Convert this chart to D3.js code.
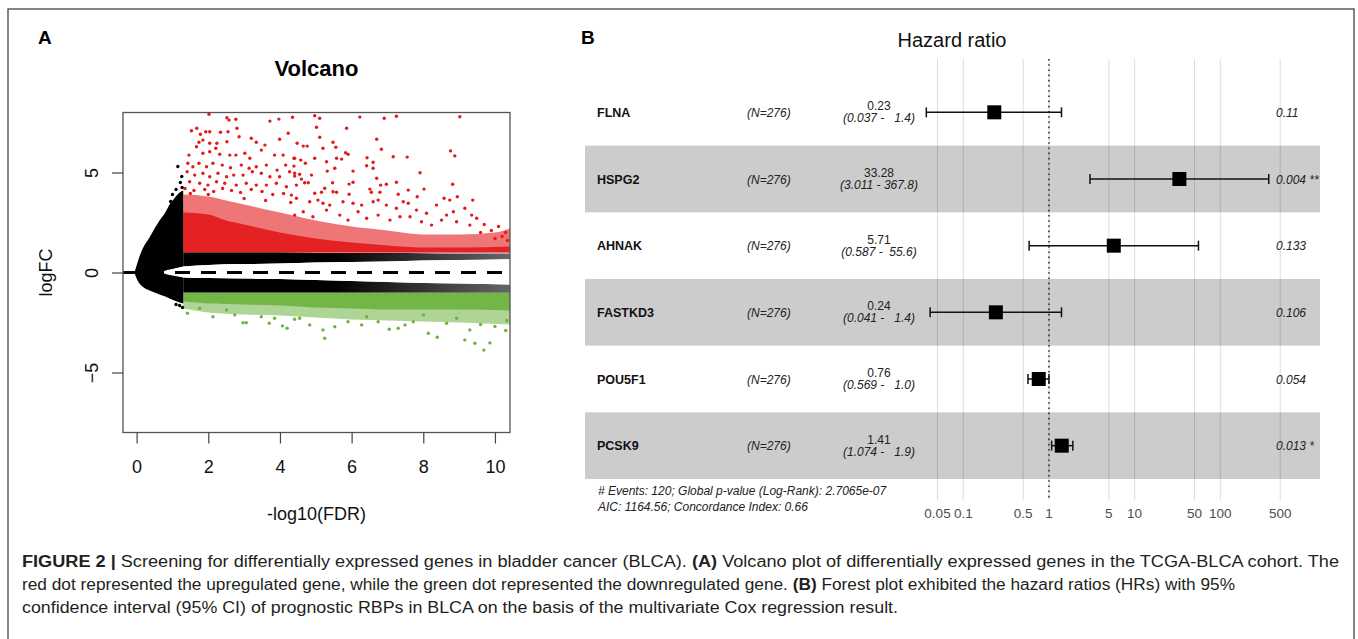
<!DOCTYPE html>
<html><head><meta charset="utf-8">
<script src="https://cdn.jsdelivr.net/npm/d3@7"></script>
<style>
body{margin:0;background:#fff}
svg{display:block}
text{font-family:"Liberation Sans",Arial,Helvetica,sans-serif}
</style>
</head><body>
<svg id="c" width="1358" height="639"></svg>
<script>
// ---------------- DATA ----------------
// Volcano plot (A)
const volcanoXTicks = [0, 2, 4, 6, 8, 10];
const volcanoYTicks = [-5, 0, 5];
// dense non-significant cloud near FDR threshold: [x, upper logFC, lower logFC]
const blackFunnel = [[-0.06,0,0],[0,0.35,-0.3],[0.08,0.8,-0.55],[0.2,1.3,-0.75],[0.36,1.75,-0.9],[0.5,2.2,-1.0],[0.64,2.6,-1.1],[0.8,3.0,-1.2],[0.92,3.4,-1.3],[1.05,3.7,-1.4],[1.2,4.0,-1.5],[1.3,4.1,-1.55]];
// black band above zero for x beyond threshold: [x, top, bottom]
const blackUpperBand = [[1.3,1.0,0.3],[2,1.0,0.38],[3,1.0,0.42],[4,1.0,0.45],[5,0.98,0.5],[6,0.97,0.52],[7,0.97,0.55],[8,0.96,0.6],[9,0.95,0.62],[10.42,0.95,0.66]];
const blackLowerBand = [[1.3,-0.25,-1.0],[2,-0.28,-1.0],[3,-0.3,-1.0],[4,-0.33,-1.0],[5,-0.38,-1.0],[6,-0.42,-1.0],[7,-0.48,-1.0],[8,-0.52,-1.0],[9,-0.55,-1.0],[10.42,-0.6,-1.0]];
// empty gap around logFC = 0: [x, top, bottom]
const zeroGap = [[0.7,0,0],[0.85,0.12,-0.1],[1.0,0.18,-0.15],[1.15,0.24,-0.2],[1.3,0.3,-0.25],[2,0.38,-0.28],[3,0.42,-0.3],[4,0.45,-0.33],[5,0.5,-0.38],[6,0.52,-0.42],[7,0.55,-0.48],[8,0.6,-0.52],[9,0.62,-0.55],[10.42,0.66,-0.6]];
// upregulated: dense core top and mid-density top (from logFC = 1)
const redDenseTop = [[1.3,3.0],[2,2.9],[2.5,2.6],[3,2.4],[4,2.0],[5,1.7],[6,1.5],[7,1.35],[8,1.25],[9,1.25],[10.42,1.3]];
const redMidTop = [[1.3,3.9],[2,3.8],[2.5,3.6],[3,3.4],[4,3.0],[5,2.6],[6,2.3],[7,2.1],[8,1.9],[9,1.9],[10,2.0],[10.42,2.2]];
// downregulated: dense core bottom and mid-density bottom (from logFC = -1)
const greenDenseBottom = [[1.3,-1.45],[2,-1.55],[3,-1.6],[4,-1.65],[5,-1.75],[6,-1.8],[7,-1.85],[8,-1.85],[9,-1.85],[10.42,-1.9]];
const greenMidBottom = [[1.3,-1.8],[2,-2.0],[3,-2.1],[4,-2.15],[5,-2.25],[6,-2.35],[7,-2.4],[8,-2.45],[9,-2.5],[10.42,-2.6]];
// scattered individual genes
const redPoints = [
[2.02,7.91],[2.52,7.74],[2.58,7.62],[2.77,7.66],[3.72,7.57],[3.97,7.67],[4.35,7.76],
[1.53,7.09],[1.68,7.21],[1.78,6.91],[1.93,7.04],[2.04,7.04],[2.34,7.01],[2.55,7.04],[2.80,7.21],[2.86,6.79],
[1.74,6.51],[1.85,6.62],[2.04,6.46],[2.24,6.46],[2.52,6.54],[3.20,6.71],[3.34,6.51],[3.58,6.37],[3.99,6.66],[4.23,6.96],
[1.67,6.29],[1.46,5.87],[1.85,5.96],[2.04,6.04],[2.21,6.21],[2.32,5.91],[2.60,5.87],[2.77,5.87],[3.02,5.96],[3.16,5.71],[3.48,6.12],[3.85,5.87],[4.09,5.87],[4.41,5.71],
[1.43,5.46],[1.57,5.29],[1.74,5.46],[1.95,5.29],[2.13,5.46],[2.39,5.37],[2.62,5.24],[2.92,5.37],[3.14,5.21],[3.34,5.29],[3.62,5.37],[3.92,5.12],[4.16,5.37],[4.27,5.04],
[1.41,5.04],[1.62,4.87],[1.85,4.96],[2.04,4.79],[2.27,4.96],[2.51,4.79],[2.71,4.87],[2.97,4.87],[3.23,5.04],[3.48,4.96],[3.72,4.79],[3.99,4.79],[4.41,4.96],
[1.48,4.54],[1.76,4.46],[1.99,4.37],[2.23,4.54],[2.46,4.46],[2.78,4.37],[3.06,4.46],[3.34,4.37],[3.62,4.37],[3.90,4.46],[4.18,4.29],[4.46,4.37],
[1.35,4.2],[1.6,4.1],[1.9,4.15],[2.15,4.05],[2.4,4.2],[2.65,4.1],[2.9,4.0],[3.2,4.15],[3.5,4.05],[3.8,3.9],[4.1,3.95],[1.5,3.95],[2.0,3.9],[3.0,3.7],[3.6,3.6],[4.3,3.5],
[4.97,7.84],[5.11,7.71],[6.23,7.77],[6.91,7.71],[7.25,7.81],[9.02,7.79],[5.02,7.26],[5.86,7.21],[5.11,6.76],[6.70,6.66],
[4.48,6.46],[4.65,6.32],[4.76,6.32],[5.20,6.21],[5.48,6.51],[5.56,6.26],[6.83,6.16],[8.76,6.08],[8.88,5.83],
[4.39,5.71],[4.58,5.62],[4.71,5.46],[4.97,5.71],[5.58,5.71],[5.72,5.67],[5.83,5.99],[5.90,5.91],[6.43,5.74],[6.60,5.51],[7.16,5.79],[7.55,5.77],
[4.39,5.32],[5.30,5.54],[5.53,5.21],[6.42,5.34],[6.60,5.21],[6.04,5.07],[7.91,4.99],
[4.41,4.82],[4.55,4.91],[4.88,4.87],[5.32,5.07],[6.70,4.71],[4.60,4.67],[4.69,4.49],[4.79,4.49],[5.25,4.21],[5.47,4.49],[5.93,4.42],[6.04,4.51],[6.51,4.17],[6.81,4.37],[6.97,4.41],[7.25,4.51],[8.02,4.17],[8.82,4.41],
[4.32,3.87],[4.46,3.71],[4.97,3.96],[5.16,4.01],[5.48,4.04],[5.58,4.01],[5.93,3.91],[6.55,4.01],[6.79,4.01],[7.30,3.91],[7.58,4.12],[7.83,3.79],[8.58,3.71],[8.74,3.62],[8.95,3.79],[9.38,3.62],
[4.83,3.54],[5.06,3.62],[5.20,3.46],[5.39,3.37],[5.76,3.54],[6.04,3.46],[6.28,3.37],[6.60,3.54],[6.74,3.62],[6.97,3.37],[7.25,3.21],[7.44,3.54],[7.58,3.46],[7.81,3.12],[8.09,2.96],[8.37,3.37],[8.65,2.87],[8.84,3.04],[9.16,3.21],[9.35,2.87],
[4.41,2.87],[4.65,3.04],[4.92,2.79],[5.30,3.12],[5.67,2.87],[5.90,2.62],[6.18,3.04],[6.42,2.71],[6.74,2.87],[7.07,2.62],[7.35,2.79],[7.63,2.79],[7.95,2.54],[8.23,2.37],[8.51,2.62],[8.93,2.54],[9.30,2.37],[9.49,2.71],
[9.7,2.4],[9.9,2.1],[10.1,2.3],[10.3,2.0],[10.35,1.6],[10.2,1.8],[9.6,2.0],[10.0,1.7]
];
const greenPoints = [
[1.42,-2.04],[2.13,-2.21],[2.97,-2.51],[3.06,-2.51],[3.70,-2.54],[3.85,-2.29],[4.07,-2.67],[4.20,-2.79],[2.74,-2.12],[3.48,-2.21],[4.41,-2.34],[1.76,-1.79],[2.51,-1.87],
[5.25,-3.29],[4.83,-2.62],[5.20,-2.87],[5.53,-2.71],[5.90,-2.46],[6.28,-2.62],[6.74,-2.46],[7.05,-2.84],[7.30,-2.79],[7.49,-2.62],[7.72,-2.46],[8.14,-3.04],[8.39,-3.24],[8.65,-2.54],[9.16,-3.37],[9.30,-2.87],[9.44,-3.54],
[4.55,-2.29],[6.42,-2.21],[8.00,-2.12],[8.93,-2.29],[9.69,-3.88],[9.86,-3.52],[10.33,-2.4],[10.3,-2.9],[10.0,-2.7],[9.6,-2.6]
];
const blackPoints = [[1.15,5.3],[1.26,4.8],[1.22,4.5],[1.27,4.25],[1.1,4.15],[1.0,3.9],[1.18,3.65],[0.95,3.55],[1.28,-1.75],[1.2,-1.65],[1.1,-1.6]];

// Forest plot (B)
const genes = ["FLNA", "HSPG2", "AHNAK", "FASTKD3", "POU5F1", "PCSK9"];
const nLabels = ["(N=276)", "(N=276)", "(N=276)", "(N=276)", "(N=276)", "(N=276)"];
const hazardRatio = [0.23, 33.28, 5.71, 0.24, 0.76, 1.41];
const ciLower = [0.037, 3.011, 0.587, 0.041, 0.569, 1.074];
const ciUpper = [1.4, 367.8, 55.6, 1.4, 1.0, 1.9];
const pLabels = ["0.11", "0.004 **", "0.133", "0.106", "0.054", "0.013 *"];
const hrTicks = [0.05, 0.1, 0.5, 1, 5, 10, 50, 100, 500];
const hrTickLabels = ["0.05", "0.1", "0.5", "1", "5", "10", "50", "100", "500"];
const footnotes = ["# Events: 120; Global p-value (Log-Rank): 2.7065e-07", "AIC: 1164.56; Concordance Index: 0.66"];

// Caption
const captionLines = [
  [["FIGURE 2 | ", true], ["Screening for differentially expressed genes in bladder cancer (BLCA). ", false], ["(A)", true], [" Volcano plot of differentially expressed genes in the TCGA-BLCA cohort. The", false]],
  [["red dot represented the upregulated gene, while the green dot represented the downregulated gene. ", false], ["(B)", true], [" Forest plot exhibited the hazard ratios (HRs) with 95%", false]],
  [["confidence interval (95% CI) of prognostic RBPs in BLCA on the basis of the multivariate Cox regression result.", false]]
];
const captionLineEnds = [1339, 1235, 898];

// ---------------- DRAW ----------------
const svg = d3.select("#c");
svg.append("rect").attr("x", 8).attr("y", 9).attr("width", 1346).attr("height", 640)
  .attr("fill", "none").attr("stroke", "#444").attr("stroke-width", 1.3);

// ===== Panel A =====
const vx = d3.scaleLinear().domain([-0.38, 10.42]).range([123, 510]);
const vy = d3.scaleLinear().domain([-8, 8]).range([432.5, 112.5]);
const defs = svg.append("defs");
defs.append("clipPath").attr("id", "vclip").append("rect")
  .attr("x", vx.range()[0]).attr("y", vy.range()[1])
  .attr("width", vx.range()[1] - vx.range()[0]).attr("height", vy.range()[0] - vy.range()[1]);
const fade = defs.append("linearGradient").attr("id", "fade").attr("gradientUnits", "userSpaceOnUse")
  .attr("x1", vx(5.5)).attr("x2", vx(10.42)).attr("y1", 0).attr("y2", 0);
fade.append("stop").attr("offset", 0).attr("stop-color", "#000").attr("stop-opacity", 1);
fade.append("stop").attr("offset", 1).attr("stop-color", "#000").attr("stop-opacity", 0.6);

svg.append("text").attr("x", 38).attr("y", 44).attr("font-size", 19).attr("font-weight", "bold").text("A");
svg.append("text").attr("x", (vx.range()[0] + vx.range()[1]) / 2).attr("y", 76).attr("text-anchor", "middle")
  .attr("font-size", 22).attr("font-weight", "bold").text("Volcano");

const vg = svg.append("g").attr("clip-path", "url(#vclip)");
const band = (top, bot) => d3.area().curve(d3.curveMonotoneX).x(d => vx(d[0])).y0(d => vy(bot(d))).y1(d => vy(top(d)));
const red = "#e41b1c", green = "#6cb33f";

vg.append("path").attr("d", band(d => d[1], d => 1)(redMidTop)).attr("fill", red).attr("opacity", 0.6);
vg.append("path").attr("d", band(d => d[1], d => 1)(redDenseTop)).attr("fill", red).attr("opacity", 0.92);
vg.append("path").attr("d", band(d => -1, d => d[1])(greenMidBottom)).attr("fill", green).attr("opacity", 0.55);
vg.append("path").attr("d", band(d => -1, d => d[1])(greenDenseBottom)).attr("fill", green).attr("opacity", 0.9);
vg.append("path").attr("d", band(d => d[1], d => d[2])(blackFunnel)).attr("fill", "#000");
vg.append("path").attr("d", band(d => d[1], d => d[2])(blackUpperBand)).attr("fill", "url(#fade)");
vg.append("path").attr("d", band(d => d[1], d => d[2])(blackLowerBand)).attr("fill", "url(#fade)");
vg.append("path").attr("d", band(d => d[1], d => d[2])(zeroGap)).attr("fill", "#fff");
vg.append("line").attr("x1", vx.range()[0]).attr("x2", vx.range()[1]).attr("y1", vy(0)).attr("y2", vy(0))
  .attr("stroke", "#000").attr("stroke-width", 3.2).attr("stroke-dasharray", "15,11");

const dots = (arr, col) => vg.append("g").selectAll("circle").data(arr).join("circle")
  .attr("cx", d => vx(d[0])).attr("cy", d => vy(d[1])).attr("r", 1.7).attr("fill", col);
dots(redPoints, red); dots(greenPoints, green); dots(blackPoints, "#000");

svg.append("rect").attr("x", vx.range()[0]).attr("y", vy.range()[1])
  .attr("width", vx.range()[1] - vx.range()[0]).attr("height", vy.range()[0] - vy.range()[1])
  .attr("fill", "none").attr("stroke", "#555").attr("stroke-width", 1.3);

// x axis
const xa = svg.append("g").attr("transform", `translate(0,${vy.range()[0]})`)
  .call(d3.axisBottom(vx).tickValues(volcanoXTicks).tickSize(11).tickPadding(17).tickFormat(d3.format("d")));
xa.select(".domain").remove();
xa.selectAll("line").attr("stroke", "#444").attr("stroke-width", 1.2);
xa.selectAll("text").attr("font-size", 18).attr("fill", "#111").attr("font-family", "Liberation Sans, Arial, sans-serif");
// y axis (rotated labels)
const ya = svg.append("g").attr("transform", `translate(${vx.range()[0]},0)`)
  .call(d3.axisLeft(vy).tickValues(volcanoYTicks).tickSize(11).tickFormat(d3.format("d")));
ya.select(".domain").remove();
ya.selectAll("line").attr("stroke", "#444").attr("stroke-width", 1.2);
ya.selectAll("text").attr("font-size", 18).attr("fill", "#111").attr("font-family", "Liberation Sans, Arial, sans-serif")
  .attr("text-anchor", "middle").attr("x", null).attr("dy", null)
  .attr("transform", "translate(-31,0) rotate(-90)").attr("y", 6);
svg.append("text").attr("x", (vx.range()[0] + vx.range()[1]) / 2).attr("y", 520).attr("text-anchor", "middle")
  .attr("font-size", 18).attr("fill", "#111").text("-log10(FDR)");
svg.append("text").attr("transform", `translate(52,${vy(0)}) rotate(-90)`).attr("text-anchor", "middle")
  .attr("font-size", 18).attr("fill", "#111").text("logFC");

// ===== Panel B =====
svg.append("text").attr("x", 581).attr("y", 44).attr("font-size", 19).attr("font-weight", "bold").text("B");
svg.append("text").attr("x", 952).attr("y", 47).attr("text-anchor", "middle").attr("font-size", 20).attr("fill", "#111").text("Hazard ratio");

const hx = d3.scaleLog().domain([0.1, 100]).range([963.3, 1220.3]);
const ry = d3.scaleBand().domain(genes).range([79, 479]);
const gridTop = 59, gridBottom = 500;

const fg = svg.append("g");
fg.selectAll("line.grid").data(hrTicks).join("line").attr("class", "grid")
  .attr("x1", d => hx(d)).attr("x2", d => hx(d)).attr("y1", gridTop).attr("y2", gridBottom)
  .attr("stroke", "#dcdcdc").attr("stroke-width", 1);
fg.selectAll("rect.band").data(genes.filter((g, i) => i % 2 === 1)).join("rect").attr("class", "band")
  .attr("x", 585).attr("width", 1320 - 585).attr("y", d => ry(d)).attr("height", ry.bandwidth())
  .attr("fill", "rgba(0,0,0,0.2)");
fg.append("line").attr("x1", hx(1)).attr("x2", hx(1)).attr("y1", gridTop).attr("y2", gridBottom)
  .attr("stroke", "#333").attr("stroke-width", 1.6).attr("stroke-dasharray", "1.6,3.6");

fg.selectAll("text.xt").data(hrTicks).join("text").attr("class", "xt")
  .attr("x", d => hx(d)).attr("y", 518).attr("text-anchor", "middle").attr("font-size", 13.5).attr("fill", "#4d4d4d")
  .text((d, i) => hrTickLabels[i]);

const rows = fg.selectAll("g.row").data(genes).join("g").attr("class", "row")
  .attr("transform", d => `translate(0,${ry(d) + ry.bandwidth() / 2})`);
rows.append("text").attr("x", 597).attr("y", 4.5).attr("font-size", 12.5).attr("font-weight", "bold").attr("fill", "#111").text(d => d);
rows.append("text").attr("x", 747).attr("y", 4.5).attr("font-size", 12).attr("font-style", "italic").attr("fill", "#222").text((d, i) => nLabels[i]);
rows.append("text").attr("x", 879).attr("y", -2).attr("text-anchor", "middle").attr("font-size", 12).attr("fill", "#222")
  .text((d, i) => hazardRatio[i].toFixed(2));
rows.append("text").attr("x", 879).attr("y", 10).attr("text-anchor", "middle").attr("font-size", 12).attr("font-style", "italic").attr("fill", "#222")
  .style("white-space", "pre").attr("xml:space", "preserve")
  .text((d, i) => "(" + ciLower[i].toFixed(3) + " - " + ciUpper[i].toFixed(1).padStart(5, " ") + ")");
rows.append("text").attr("x", 1276).attr("y", 4.5).attr("font-size", 12).attr("font-style", "italic").attr("fill", "#222")
  .style("white-space", "pre").text((d, i) => pLabels[i]);
// CI bars
rows.append("line").attr("x1", (d, i) => hx(ciLower[i])).attr("x2", (d, i) => hx(ciUpper[i]))
  .attr("y1", 0).attr("y2", 0).attr("stroke", "#111").attr("stroke-width", 1.5);
rows.append("line").attr("x1", (d, i) => hx(ciLower[i])).attr("x2", (d, i) => hx(ciLower[i]))
  .attr("y1", -5).attr("y2", 5).attr("stroke", "#111").attr("stroke-width", 1.5);
rows.append("line").attr("x1", (d, i) => hx(ciUpper[i])).attr("x2", (d, i) => hx(ciUpper[i]))
  .attr("y1", -5).attr("y2", 5).attr("stroke", "#111").attr("stroke-width", 1.5);
rows.append("rect").attr("x", (d, i) => hx(hazardRatio[i]) - 7).attr("y", -7).attr("width", 14).attr("height", 14).attr("fill", "#000");

fg.selectAll("text.foot").data(footnotes).join("text").attr("class", "foot")
  .attr("x", 598).attr("y", (d, i) => 495 + i * 16).attr("font-size", 12).attr("font-style", "italic").attr("fill", "#222").text(d => d);

// ===== Caption =====
const cap = svg.append("g");
captionLines.forEach((parts, li) => {
  const t = cap.append("text").attr("x", 22).attr("y", 567 + li * 23).attr("font-size", 16).attr("fill", "#231f20")
    .style("white-space", "pre").attr("font-family", "'Liberation Sans Narrow','Arial Narrow','Liberation Sans',sans-serif");
  parts.forEach(p => t.append("tspan").attr("font-weight", p[1] ? "bold" : "normal").text(p[0]));
  t.attr("textLength", captionLineEnds[li] - 22).attr("lengthAdjust", "spacingAndGlyphs");
});
</script>
</body></html>
